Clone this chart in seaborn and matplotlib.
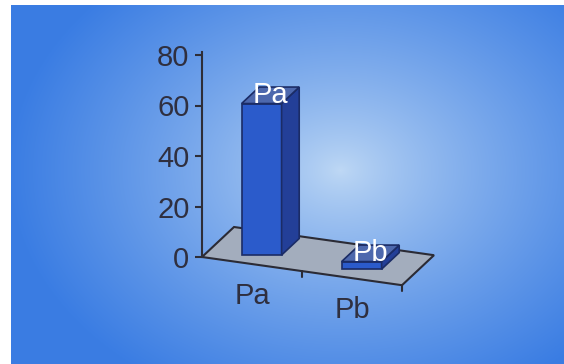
import numpy as np
import pandas as pd
import matplotlib
matplotlib.use("Agg")
import matplotlib.pyplot as plt
from matplotlib.patches import Polygon
from matplotlib.lines import Line2D
from matplotlib.transforms import Affine2D, IdentityTransform
import seaborn as sns

# data
categories = ["Pa", "Pb"]
values = [60, 3]
y_ticks = [0, 20, 40, 60, 80]

sns.set_style("white")
plt.rcParams["font.family"] = ["Liberation Sans", "DejaVu Sans"]

W, H = 564, 364
fig = plt.figure(figsize=(W / 100, H / 100), dpi=100)
fig.patch.set_facecolor("white")

# blue radial gradient backdrop with a thin white margin top/left
bg = fig.add_axes([11 / W, 0, 1 - 11 / W, 1 - 5 / H])
bg.set_axis_off()
yy, xx = np.mgrid[5:H, 11:W]
t = np.sqrt(((xx - 340) / 330) ** 2 + ((yy - 170) / 250) ** 2)
t = np.clip(t, 0, 1) ** 0.8
c_in = np.array([0.75, 0.85, 0.96])
c_out = np.array([0.23, 0.49, 0.89])
bg.imshow(c_in + (c_out - c_in) * t[..., None], aspect="auto", interpolation="bilinear")

# main axes: y from 0 at px 257 to 80 at px 55
px_per_unit = 2.525
ymax = 81
ax = fig.add_axes([202 / W, (H - 257) / H, 200 / W, ymax * px_per_unit / H])
ax.patch.set_alpha(0)

df = pd.DataFrame({"cat": categories, "val": values})
sns.barplot(data=df, x="cat", y="val", ax=ax, width=0.4, color="#2b5bcb",
            saturation=1, edgecolor="#1b2c66", linewidth=1.2, zorder=3)
bars = list(ax.patches)

ax.set_xlim(-0.5, 1.5)
ax.set_ylim(0, ymax)
ax.autoscale(False)
ax.set_xticks([])
ax.set_yticks(y_ticks)
ax.set_xlabel("")
ax.set_ylabel("")
for s in ["top", "right", "bottom"]:
    ax.spines[s].set_visible(False)
ax.spines["left"].set_color("#2e2e38")
ax.spines["left"].set_linewidth(1.5)
ax.tick_params(axis="y", left=True, length=5, width=1.5, color="#2e2e38",
               labelsize=21, labelcolor="#2f2f3f", pad=4)

# fake 3d: floor sheared down to the right, depth going up-right
slope = -0.141
depth = np.array([32.0, 30.0])
x0, y0 = ax.transData.transform((-0.5, 0))
ident = IdentityTransform()


def floor_pt(xd, f):
    X, Y = ax.transData.transform((xd, 0))
    return np.array([X + depth[0] * f, Y + slope * (X - x0) + depth[1] * f])


floor = [floor_pt(-0.5, 0), floor_pt(1.5, 0), floor_pt(1.5, 1), floor_pt(-0.5, 1)]
ax.add_patch(Polygon(floor, closed=True, facecolor="#a3adbd", edgecolor="#2b2b35",
                     linewidth=1.5, transform=ident, zorder=1, clip_on=False))

# little ticks on the front edge of the floor
for xd in [0.5, 1.5]:
    p = floor_pt(xd, 0)
    ax.add_line(Line2D([p[0], p[0]], [p[1], p[1] - 6], color="#2b2b35", lw=1.5,
                       transform=ident, clip_on=False, zorder=2))

f0, bd = 0.3, 0.55
for i, (bar, cat) in enumerate(zip(bars, categories)):
    xl, w, h = bar.get_x(), bar.get_width(), bar.get_height()
    Xc = ax.transData.transform((xl + w / 2, 0))[0]
    off = np.array([depth[0] * f0, slope * (Xc - x0) + depth[1] * f0])
    bar.set_transform(ax.transData + Affine2D().translate(*off))
    bar.set_clip_on(False)
    BR = ax.transData.transform((xl + w, 0)) + off
    TR = ax.transData.transform((xl + w, h)) + off
    TL = ax.transData.transform((xl, h)) + off
    dv = depth * bd
    ax.add_patch(Polygon([BR, TR, TR + dv, BR + dv], facecolor="#233f98",
                         edgecolor="#1b2c66", linewidth=1.2, transform=ident,
                         zorder=3, clip_on=False))
    ax.add_patch(Polygon([TL, TR, TR + dv, TL + dv], facecolor="#4d68ad",
                         edgecolor="#1b2c66", linewidth=1.2, transform=ident,
                         zorder=3, clip_on=False))
    c = (TL + TR) / 2 + dv / 2
    ax.text(c[0], c[1], cat, color="white", fontsize=21, ha="center", va="center",
            transform=ident, zorder=5)

    # category label under the floor
    fp = floor_pt(i, 0)
    ax.text(fp[0], fp[1] - 32, cat, color="#2f2f3f", fontsize=21, ha="center",
            va="center", transform=ident, zorder=5)

fig.savefig("out.png", dpi=100)
